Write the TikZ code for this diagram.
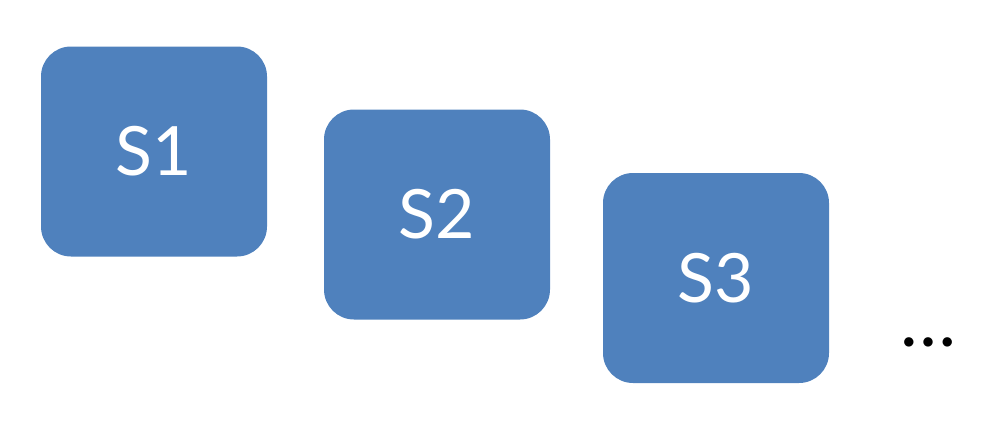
\documentclass[tikz,border=0pt]{standalone}
\usepackage{fontspec}
\setmainfont{Lato}
\definecolor{sblue}{RGB}{79,129,189}
\tikzset{every picture/.style={line width=0.75pt}}
\tikzset{stepbox/.style={fill=sblue, draw=none, rounded corners=22.5pt, minimum width=169.5pt, minimum height=157.5pt, inner sep=0pt, text=white, font=\fontsize{51}{60}\selectfont}}
\begin{document}
\begin{tikzpicture}[x=0.75pt,y=0.75pt,yscale=-1,xscale=1]
\useasboundingbox (0,0) rectangle (1006,422);

%Shape: Rounded Rect S1
\node [stepbox] (s1) at (154,151.5) {\raisebox{-3pt}{S1}};
%Shape: Rounded Rect S2
\node [stepbox] (s2) at (437,214.5) {\raisebox{-3pt}{S2}};
%Shape: Rounded Rect S3
\node [stepbox] (s3) at (716,278) {\raisebox{-3pt}{S3}};

% Text Node
\node [inner sep=0pt, font=\fontsize{56}{60}\selectfont] (more) at (928,342) {…};

\end{tikzpicture}
\end{document}
